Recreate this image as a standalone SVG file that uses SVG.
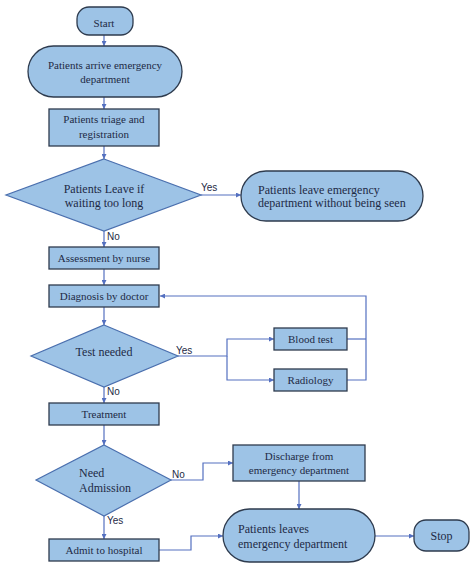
<svg xmlns="http://www.w3.org/2000/svg" width="474" height="568" viewBox="0 0 474 568">
<style>
.box{fill:#9dc3e6;stroke:#2e3b4e;stroke-width:1.3}
.dia{fill:#9dc3e6;stroke:#4a6fae;stroke-width:1.2}
.t{font-family:"Liberation Serif","Times New Roman",serif;font-size:11px;fill:#1e2a45;text-anchor:middle}
.t12{font-size:12px}
.l{font-family:"Liberation Sans",Arial,sans-serif;font-size:10px;fill:#1e2a45}
.c{fill:none;stroke:#5470c0;stroke-width:1.2}
</style>
<defs>
<marker id="a" viewBox="0 0 10 10" refX="10" refY="5" markerWidth="5" markerHeight="5" orient="auto" markerUnits="userSpaceOnUse">
<path d="M0,0 L10,5 L0,10 z" fill="#5470c0"/>
</marker>
</defs>
<rect width="474" height="568" fill="#ffffff"/>
<g id="connectors">
<path class="c" d="M104,35 V46" marker-end="url(#a)"/>
<path class="c" d="M104,97 V109" marker-end="url(#a)"/>
<path class="c" d="M104,146 V159" marker-end="url(#a)"/>
<path class="c" d="M201,195 H241" marker-end="url(#a)"/>
<path class="c" d="M104,231 V247" marker-end="url(#a)"/>
<path class="c" d="M104,269 V285" marker-end="url(#a)"/>
<path class="c" d="M104,307 V325" marker-end="url(#a)"/>
<path class="c" d="M178,356 H227 V339 H274" marker-end="url(#a)"/>
<path class="c" d="M227,356 V380 H274" marker-end="url(#a)"/>
<path class="c" d="M347,339 H366"/>
<path class="c" d="M347,380 H366 V296 H160" marker-end="url(#a)"/>
<path class="c" d="M104,387 V403" marker-end="url(#a)"/>
<path class="c" d="M104,425 V445" marker-end="url(#a)"/>
<path class="c" d="M171,480 H203 V463 H233" marker-end="url(#a)"/>
<path class="c" d="M299,481 V509" marker-end="url(#a)"/>
<path class="c" d="M104,516 V539" marker-end="url(#a)"/>
<path class="c" d="M159,550 H191 V536 H223" marker-end="url(#a)"/>
<path class="c" d="M375,536 H414" marker-end="url(#a)"/>
<text class="l" x="201" y="191">Yes</text>
<text class="l" x="107" y="240">No</text>
<text class="l" x="176" y="354">Yes</text>
<text class="l" x="107" y="395">No</text>
<text class="l" x="172" y="478">No</text>
<text class="l" x="107" y="524">Yes</text>
</g>
<g id="start">
<rect class="box" x="77" y="7" width="56" height="28" rx="12"/>
<text class="t" x="104" y="27">Start</text>
</g>
<g id="arrive">
<rect class="box" x="28" y="46" width="154" height="51" rx="25.5"/>
<text class="t" x="105" y="69">Patients arrive emergency</text>
<text class="t" x="105" y="83">department</text>
</g>
<g id="triage">
<rect class="box" x="49" y="109" width="110" height="37"/>
<text class="t" x="104" y="123">Patients triage and</text>
<text class="t" x="104" y="138">registration</text>
</g>
<g id="leave-decision">
<polygon class="dia" points="104,159 201,195 104,231 6,195"/>
<text class="t t12" x="104" y="193">Patients Leave if</text>
<text class="t t12" x="104" y="207">waiting too long</text>
</g>
<g id="left-unseen">
<rect class="box" x="241" y="171" width="182" height="50" rx="25"/>
<text class="t t12" x="258" y="194" style="text-anchor:start">Patients leave emergency</text>
<text class="t t12" x="258" y="207" style="text-anchor:start">department without being seen</text>
</g>
<g id="assessment">
<rect class="box" x="49" y="247" width="110" height="22"/>
<text class="t" x="104" y="262">Assessment by nurse</text>
</g>
<g id="diagnosis">
<rect class="box" x="49" y="285" width="110" height="22"/>
<text class="t" x="104" y="300">Diagnosis by doctor</text>
</g>
<g id="test-decision">
<polygon class="dia" points="104,325 178,356 104,387 31,356"/>
<text class="t t12" x="104" y="356">Test needed</text>
</g>
<g id="blood-test">
<rect class="box" x="274" y="328" width="73" height="22"/>
<text class="t" x="310.5" y="343">Blood test</text>
</g>
<g id="radiology">
<rect class="box" x="274" y="369" width="73" height="22"/>
<text class="t" x="310.5" y="384">Radiology</text>
</g>
<g id="treatment">
<rect class="box" x="49" y="403" width="110" height="22"/>
<text class="t" x="104" y="418">Treatment</text>
</g>
<g id="admission-decision">
<polygon class="dia" points="104,445 171,480 104,516 36,480"/>
<text class="t t12" x="79" y="477" style="text-anchor:start">Need</text>
<text class="t t12" x="79" y="492" style="text-anchor:start">Admission</text>
</g>
<g id="discharge">
<rect class="box" x="233" y="445" width="132" height="36"/>
<text class="t" x="299" y="460">Discharge from</text>
<text class="t" x="299" y="474">emergency department</text>
</g>
<g id="admit">
<rect class="box" x="49" y="539" width="110" height="22"/>
<text class="t" x="104" y="554">Admit to hospital</text>
</g>
<g id="leaves-ed">
<rect class="box" x="223" y="509" width="152" height="53" rx="26.5"/>
<text class="t t12" x="238" y="533" style="text-anchor:start">Patients leaves</text>
<text class="t t12" x="238" y="548" style="text-anchor:start">emergency department</text>
</g>
<g id="stop">
<rect class="box" x="414" y="520" width="55" height="31" rx="12"/>
<text class="t t12" x="441.5" y="540">Stop</text>
</g>
</svg>
